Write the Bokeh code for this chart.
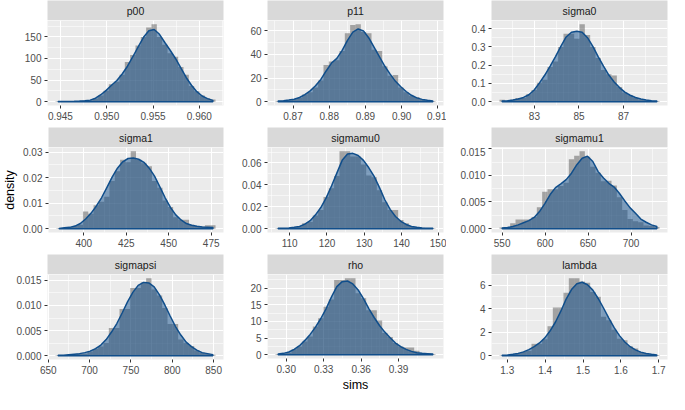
import numpy as np
from bokeh.plotting import figure
from bokeh.models import Range1d, FixedTicker, CustomJSTickFormatter, Label
from bokeh.layouts import row, column
from bokeh.embed import file_html
from bokeh.resources import INLINE

# ---------------- data ----------------
# each panel: first / last bin centre of the 30 histogram bins,
# histogram heights (density scale) and kernel density at the bin centres
p00_range = [0.94476, 0.96146]
p00_hist = [1, 0, 0, 1, 1, 2, 3, 7, 14, 25, 40, 46, 62, 92, 108, 130, 150, 172, 179, 150,
            132, 112, 104, 80, 62, 36, 24, 14, 8, 5]
p00_dens = [0.2, 0.3, 0.5, 0.8, 1.2, 2, 3.5, 8, 16, 26, 38, 49, 64, 82, 104, 127, 149, 164, 167, 156,
            137, 119, 100, 78, 56, 38, 23, 13, 7, 3]
p00_xticks = [0.945, 0.950, 0.955, 0.960]
p00_xlabels = ["0.945", "0.950", "0.955", "0.960"]
p00_yticks = [0, 50, 100, 150]
p00_ylabels = ["0", "50", "100", "150"]

p11_range = [0.8659, 0.9086]
p11_hist = [0.5, 0.6, 1, 2, 3, 6, 8, 12, 18, 31, 34, 35, 43, 58, 65, 65.5, 59, 58, 44, 43,
            30, 22, 22.5, 12, 8, 5, 4, 2, 1, 0.5]
p11_dens = [0.5, 0.8, 1.3, 2.1, 3.5, 5.9, 9.1, 13.4, 18.8, 26, 32.7, 36.7, 43.4, 52, 59, 61.6, 60, 54, 46, 38,
            30, 23.3, 17.2, 12.6, 8.6, 5.4, 3.2, 1.9, 1.1, 0.5]
p11_xticks = [0.87, 0.88, 0.89, 0.90, 0.91]
p11_xlabels = ["0.87", "0.88", "0.89", "0.90", "0.91"]
p11_yticks = [0, 20, 40, 60]
p11_ylabels = ["0", "20", "40", "60"]

sigma0_range = [81.55, 88.5]
sigma0_hist = [0.01, 0.004, 0.01, 0.02, 0.02, 0.04, 0.064, 0.104, 0.12, 0.19, 0.22, 0.3, 0.372, 0.372, 0.345,
               0.424, 0.365, 0.3, 0.24, 0.174, 0.15, 0.143, 0.08, 0.05, 0.035, 0.02, 0.01, 0.008, 0.004, 0.003]
sigma0_dens = [0.003, 0.005, 0.009, 0.014, 0.023, 0.038, 0.064, 0.103, 0.146, 0.195, 0.247, 0.303, 0.355, 0.381, 0.386,
               0.381, 0.351, 0.303, 0.247, 0.195, 0.146, 0.108, 0.077, 0.052, 0.035, 0.023, 0.014, 0.009, 0.005, 0.003]
sigma0_xticks = [83, 85, 87]
sigma0_xlabels = ["83", "85", "87"]
sigma0_yticks = [0.0, 0.1, 0.2, 0.3, 0.4]
sigma0_ylabels = ["0.0", "0.1", "0.2", "0.3", "0.4"]

sigma1_range = [385.5, 476.0]
sigma1_hist = [0.0002, 0.0002, 0.0005, 0.001, 0.0015, 0.0067, 0.0058, 0.0092, 0.0105, 0.0125, 0.0187, 0.0225, 0.027,
               0.026, 0.0303, 0.027, 0.0256, 0.0245, 0.0187, 0.016, 0.011, 0.0085, 0.0045, 0.0035, 0.0035, 0.0015,
               0.001, 0.0008, 0.0013, 0.0013]
sigma1_dens = [0.0001, 0.0003, 0.0005, 0.001, 0.002, 0.0038, 0.006, 0.0088, 0.0121, 0.0161, 0.0202, 0.0237, 0.0262,
               0.0275, 0.0277, 0.0272, 0.026, 0.0237, 0.0206, 0.0164, 0.0121, 0.0083, 0.0054, 0.0034, 0.002, 0.0013,
               0.0009, 0.0006, 0.0005, 0.0004]
sigma1_xticks = [400, 425, 450, 475]
sigma1_xlabels = ["400", "425", "450", "475"]
sigma1_yticks = [0.0, 0.01, 0.02, 0.03]
sigma1_ylabels = ["0.00", "0.01", "0.02", "0.03"]

sigmamu0_range = [106.9, 148.4]
sigmamu0_hist = [0.0003, 0.0003, 0.0005, 0.001, 0.002, 0.005, 0.006, 0.012, 0.017, 0.029, 0.037, 0.048, 0.0706,
                 0.0706, 0.066, 0.066, 0.0585, 0.0486, 0.047, 0.035, 0.024, 0.017, 0.017, 0.008, 0.005, 0.002,
                 0.0015, 0.0008, 0.0003, 0.0003]
sigmamu0_dens = [0.0003, 0.0003, 0.0006, 0.0012, 0.002, 0.0041, 0.0073, 0.0126, 0.0193, 0.0281, 0.039, 0.0507, 0.0624,
                 0.0682, 0.0688, 0.0668, 0.0624, 0.0556, 0.0477, 0.0375, 0.0264, 0.0176, 0.0111, 0.0067, 0.0038,
                 0.002, 0.0012, 0.0006, 0.0003, 0.0003]
sigmamu0_xticks = [110, 120, 130, 140, 150]
sigmamu0_xlabels = ["110", "120", "130", "140", "150"]
sigmamu0_yticks = [0.0, 0.02, 0.04, 0.06]
sigmamu0_ylabels = ["0.00", "0.02", "0.04", "0.06"]

sigmamu1_range = [550.0, 730.0]
sigmamu1_hist = [0.0002, 0.0003, 0.001, 0.0017, 0.0017, 0.0017, 0.0022, 0.004, 0.0069, 0.0074, 0.0074, 0.008, 0.0086,
                 0.013, 0.0137, 0.0145, 0.0135, 0.0116, 0.0105, 0.0089, 0.009, 0.0081, 0.0059, 0.0035, 0.0018,
                 0.0014, 0.0012, 0.0006, 0.0005, 0.0003]
sigmamu1_dens = [0.0001, 0.0002, 0.0004, 0.0007, 0.0011, 0.0015, 0.0021, 0.0032, 0.0047, 0.0064, 0.0077, 0.0084,
                 0.0092, 0.0104, 0.012, 0.0132, 0.0136, 0.0126, 0.0107, 0.0095, 0.0085, 0.0078, 0.0066, 0.0052,
                 0.0039, 0.0029, 0.0018, 0.0012, 0.0007, 0.0004]
sigmamu1_xticks = [550, 600, 650, 700]
sigmamu1_xlabels = ["550", "600", "650", "700"]
sigmamu1_yticks = [0.0, 0.005, 0.01, 0.015]
sigmamu1_ylabels = ["0.000", "0.005", "0.010", "0.015"]

sigmapsi_range = [662.0, 849.0]
sigmapsi_hist = [0.0001, 0.0001, 0.0002, 0.0003, 0.0004, 0.0004, 0.0008, 0.0013, 0.0018, 0.0025, 0.0055, 0.0055,
                 0.0093, 0.0093, 0.0135, 0.0135, 0.0146, 0.0154, 0.0132, 0.012, 0.0095, 0.0063, 0.0063, 0.0032,
                 0.0025, 0.0019, 0.001, 0.0006, 0.0004, 0.0002]
sigmapsi_dens = [0.0001, 0.0001, 0.0002, 0.0003, 0.0004, 0.0006, 0.0009, 0.0014, 0.0021, 0.0032, 0.0047, 0.0064,
                 0.0085, 0.0107, 0.0126, 0.014, 0.0146, 0.0145, 0.0137, 0.0121, 0.0101, 0.0079, 0.0058, 0.0041,
                 0.0027, 0.0018, 0.0011, 0.0006, 0.0004, 0.0002]
sigmapsi_xticks = [650, 700, 750, 800, 850]
sigmapsi_xlabels = ["650", "700", "750", "800", "850"]
sigmapsi_yticks = [0.0, 0.005, 0.01, 0.015]
sigmapsi_ylabels = ["0.000", "0.005", "0.010", "0.015"]

rho_range = [0.2935, 0.4175]
rho_hist = [0.2, 0.3, 0.6, 1.6, 2.5, 4.0, 5.5, 8.5, 11.0, 14.4, 16.6, 22.5, 22.5, 23.0, 23.0, 18.5, 17.0, 13.4, 13.4,
            10.3, 6.5, 5.3, 3.5, 2.5, 2.2, 2.2, 1.2, 0.5, 0.3, 0.2]
rho_dens = [0.2, 0.4, 0.8, 1.6, 2.7, 4.3, 6.1, 8.3, 10.9, 13.9, 17.4, 20.5, 22.0, 22.2, 21.3, 19.5, 16.9, 13.9, 11.2,
            8.8, 6.8, 5.1, 3.5, 2.4, 1.6, 1.0, 0.6, 0.4, 0.3, 0.2]
rho_xticks = [0.30, 0.33, 0.36, 0.39]
rho_xlabels = ["0.30", "0.33", "0.36", "0.39"]
rho_yticks = [0, 5, 10, 15, 20]
rho_ylabels = ["0", "5", "10", "15", "20"]

lambda_range = [1.2865, 1.695]
lambda_hist = [0.03, 0.05, 0.1, 0.2, 0.3, 0.4, 1.0, 1.0, 1.4, 2.5, 4.1, 4.1, 5.35, 6.57, 6.57, 6.3, 6.2, 5.4, 5.0,
               3.3, 3.0, 2.2, 1.43, 1.3, 0.8, 0.6, 0.3, 0.2, 0.1, 0.05]
lambda_dens = [0.03, 0.05, 0.11, 0.19, 0.32, 0.51, 0.76, 1.08, 1.51, 2.11, 2.86, 3.78, 4.81, 5.62, 6.11, 6.24, 6.03,
               5.57, 4.86, 4.05, 3.19, 2.38, 1.70, 1.16, 0.76, 0.49, 0.30, 0.19, 0.11, 0.05]
lambda_xticks = [1.3, 1.4, 1.5, 1.6, 1.7]
lambda_xlabels = ["1.3", "1.4", "1.5", "1.6", "1.7"]
lambda_yticks = [0, 2, 4, 6]
lambda_ylabels = ["0", "2", "4", "6"]

x_title = "sims"
y_title = "density"

# ---------------- styling / layout ----------------
FONT = "Liberation Sans"
FW, FH, SH = 176, 85, 20          # frame width, frame height, strip height
COL_L = [47, 41, 45]
COL_R = [3, 3, 2]
ROW_B = [22, 22, 35]
DENS_COL = "#104E8B"


def formatter(tvals, tlabs):
    return CustomJSTickFormatter(
        args=dict(tv=list(tvals), tl=list(tlabs)),
        code="const i = tv.findIndex(t => Math.abs(t - tick) < 1e-9); return i >= 0 ? tl[i] : '';")


def minors(tvals):
    t = list(tvals)
    step = t[1] - t[0]
    return [t[0] - step / 2] + [(a + b) / 2 for a, b in zip(t[:-1], t[1:])] + [t[-1] + step / 2]


def panel(name, rng, hist, dens, xt, xl, yt, yl, L, R, B, xlab=None, ylab=None):
    hist = np.asarray(hist, float)
    dens = np.asarray(dens, float)
    n = len(hist)
    lo, hi = rng
    w = (hi - lo) / (n - 1)
    centers = lo + w * np.arange(n)
    a, b = lo - w / 2, hi + w / 2
    pad = 0.05 * (b - a)
    M = max(hist.max(), dens.max())

    strip = figure(width=L + FW + R, height=SH, x_range=Range1d(0, 1), y_range=Range1d(0, 1),
                   x_axis_type=None, y_axis_type=None, toolbar_location=None, output_backend="svg",
                   min_border_left=L, min_border_right=R, min_border_top=0, min_border_bottom=0)
    strip.background_fill_color = "#D9D9D9"
    strip.border_fill_color = "white"
    strip.outline_line_color = None
    strip.grid.visible = False
    strip.add_layout(Label(x=0.5, y=0.5, text=name, text_align="center", text_baseline="middle",
                           text_font=FONT, text_font_size="10.5px", text_color="#1A1A1A"))

    p = figure(width=L + FW + R, height=FH + B,
               x_range=Range1d(a - pad, b + pad), y_range=Range1d(-0.05 * M, 1.05 * M),
               toolbar_location=None, output_backend="svg",
               min_border_left=L, min_border_right=R, min_border_top=0, min_border_bottom=B)
    p.background_fill_color = "#EBEBEB"
    p.border_fill_color = "white"
    p.outline_line_color = None

    p.quad(left=centers - w / 2, right=centers + w / 2, bottom=0, top=hist,
           fill_color="#595959", fill_alpha=0.5, line_color=None)
    xs = np.concatenate([[centers[0]], centers, [centers[-1]]])
    ys = np.concatenate([[0.0], dens, [0.0]])
    p.patch(xs, ys, fill_color=DENS_COL, fill_alpha=0.5, line_color=DENS_COL, line_width=1.5)

    p.xaxis.ticker = FixedTicker(ticks=list(xt), minor_ticks=minors(xt))
    p.yaxis.ticker = FixedTicker(ticks=list(yt), minor_ticks=minors(yt))
    p.xaxis.formatter = formatter(xt, xl)
    p.yaxis.formatter = formatter(yt, yl)
    for ax in p.axis:
        ax.axis_line_color = None
        ax.major_tick_line_color = "#333333"
        ax.major_tick_out = 3
        ax.major_tick_in = 0
        ax.minor_tick_line_color = None
        ax.major_label_text_font = FONT
        ax.major_label_text_font_size = "10px"
        ax.major_label_text_color = "#4D4D4D"
        ax.major_label_standoff = 2
        ax.axis_label_text_font = FONT
        ax.axis_label_text_font_size = "12.5px"
        ax.axis_label_text_font_style = "normal"
        ax.axis_label_text_color = "black"
    if xlab:
        p.xaxis.axis_label = xlab
        p.xaxis.axis_label_standoff = 2
    if ylab:
        p.yaxis.axis_label = ylab
        p.yaxis.axis_label_standoff = 3
    p.grid.grid_line_color = "white"
    p.grid.grid_line_width = 1.1
    p.grid.minor_grid_line_color = "white"
    p.grid.minor_grid_line_width = 0.55
    return column(strip, p, spacing=0)


specs = [
    ("p00", p00_range, p00_hist, p00_dens, p00_xticks, p00_xlabels, p00_yticks, p00_ylabels),
    ("p11", p11_range, p11_hist, p11_dens, p11_xticks, p11_xlabels, p11_yticks, p11_ylabels),
    ("sigma0", sigma0_range, sigma0_hist, sigma0_dens, sigma0_xticks, sigma0_xlabels, sigma0_yticks, sigma0_ylabels),
    ("sigma1", sigma1_range, sigma1_hist, sigma1_dens, sigma1_xticks, sigma1_xlabels, sigma1_yticks, sigma1_ylabels),
    ("sigmamu0", sigmamu0_range, sigmamu0_hist, sigmamu0_dens, sigmamu0_xticks, sigmamu0_xlabels,
     sigmamu0_yticks, sigmamu0_ylabels),
    ("sigmamu1", sigmamu1_range, sigmamu1_hist, sigmamu1_dens, sigmamu1_xticks, sigmamu1_xlabels,
     sigmamu1_yticks, sigmamu1_ylabels),
    ("sigmapsi", sigmapsi_range, sigmapsi_hist, sigmapsi_dens, sigmapsi_xticks, sigmapsi_xlabels,
     sigmapsi_yticks, sigmapsi_ylabels),
    ("rho", rho_range, rho_hist, rho_dens, rho_xticks, rho_xlabels, rho_yticks, rho_ylabels),
    ("lambda", lambda_range, lambda_hist, lambda_dens, lambda_xticks, lambda_xlabels, lambda_yticks, lambda_ylabels),
]

rows = []
for r in range(3):
    cells = []
    for c in range(3):
        k = r * 3 + c
        xlab = x_title if (r == 2 and c == 1) else None
        ylab = y_title if (r == 1 and c == 0) else None
        cells.append(panel(*specs[k], COL_L[c], COL_R[c], ROW_B[r], xlab=xlab, ylab=ylab))
    rows.append(row(*cells, spacing=0))

layout = column(*rows, spacing=0)

open("out.html", "w").write(file_html(layout, INLINE))
